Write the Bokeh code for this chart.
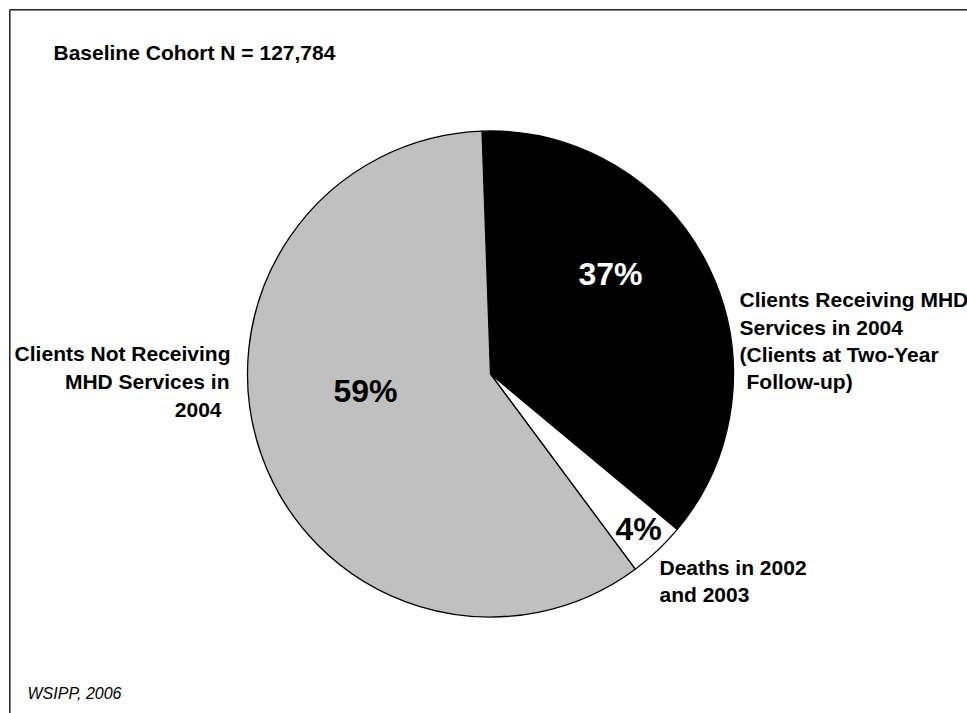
import numpy as np
from bokeh.plotting import figure
from bokeh.models import Range1d, ColumnDataSource
from bokeh.core.properties import value
from bokeh.embed import file_html
from bokeh.resources import INLINE

# ---- data ----
categories = ["Clients Receiving MHD Services in 2004", "Deaths in 2002 and 2003",
              "Clients Not Receiving MHD Services in 2004"]
shares = [36.6, 3.8, 59.6]          # slice sizes
pct_labels = ["37%", "4%", "59%"]
colors = ["#000000", "#FFFFFF", "#C0C0C0"]
pct_colors = ["#FFFFFF", "#000000", "#000000"]
label_lines = [
    ["Clients Receiving MHD", "Services in 2004", "(Clients at Two-Year", "Follow-up)"],
    ["Deaths in 2002", "and 2003"],
    ["Clients Not Receiving", "MHD Services in", "2004"],
]
title_text = "Baseline Cohort N = 127,784"
source_text = "WSIPP, 2006"

# ---- layout ----
W, H = 967, 713
def X(px):
    return px
def Y(py):
    return H - py

p = figure(width=W, height=H, output_backend="svg", toolbar_location=None,
           x_range=Range1d(0, W), y_range=Range1d(0, H), min_border=0,
           background_fill_color="white", border_fill_color="white")
p.axis.visible = False
p.xgrid.visible = False
p.ygrid.visible = False
p.outline_line_color = None
p.outline_line_alpha = 0

# pie
cx, cy, r = X(490), Y(373.5), 243
start_deg = 92.0
frac = np.array(shares) / np.sum(shares)
cum = np.concatenate([[0], np.cumsum(frac)])
starts = np.radians(start_deg - cum[1:] * 360)
ends = np.radians(start_deg - cum[:-1] * 360)
src = ColumnDataSource(dict(start=starts, end=ends, color=colors, cat=categories))
p.wedge(x=cx, y=cy, radius=r, start_angle="start", end_angle="end",
        fill_color="color", line_color="black", line_width=1.3, source=src)

FONT = value("Liberation Sans")

# percentage labels
pct_pos = [(610, 273), (638, 528), (365, 390)]
p.text(x=[X(a) for a, b in pct_pos], y=[Y(b) for a, b in pct_pos], text=pct_labels,
       text_color=pct_colors, text_font=FONT, text_font_style="bold",
       text_font_size="32px", text_align="center", text_baseline="middle")

# category labels
right_x = [739, 739, 739, 746]
right_y = [299, 327, 354, 381]
p.text(x=[X(v) for v in right_x], y=[Y(v) for v in right_y], text=label_lines[0],
       text_font=FONT, text_font_style="bold", text_font_size="21px",
       text_align="left", text_baseline="middle", text_color="black")

death_x = [659, 659]
death_y = [567, 594]
p.text(x=[X(v) for v in death_x], y=[Y(v) for v in death_y], text=label_lines[1],
       text_font=FONT, text_font_style="bold", text_font_size="21px",
       text_align="left", text_baseline="middle", text_color="black")

left_x = [230, 229, 221]
left_y = [353, 381, 409]
p.text(x=[X(v) for v in left_x], y=[Y(v) for v in left_y], text=label_lines[2],
       text_font=FONT, text_font_style="bold", text_font_size="21px",
       text_align="right", text_baseline="middle", text_color="black")

# title and source
p.text(x=[X(53)], y=[Y(52)], text=[title_text], text_font=FONT, text_font_style="bold",
       text_font_size="21px", text_align="left", text_baseline="middle", text_color="black")
p.text(x=[X(27)], y=[Y(693)], text=[source_text], text_font=FONT, text_font_style="italic",
       text_font_size="16px", text_align="left", text_baseline="middle", text_color="black")

# frame (only top and left edges are visible in the reference)
p.segment(x0=[X(9.3), X(9.3)], y0=[Y(H), Y(9.3)], x1=[X(9.3), X(W + 20)], y1=[Y(9.3), Y(9.3)],
          line_color="#222222", line_width=1.5)

open("out.html", "w").write(file_html(p, INLINE))
